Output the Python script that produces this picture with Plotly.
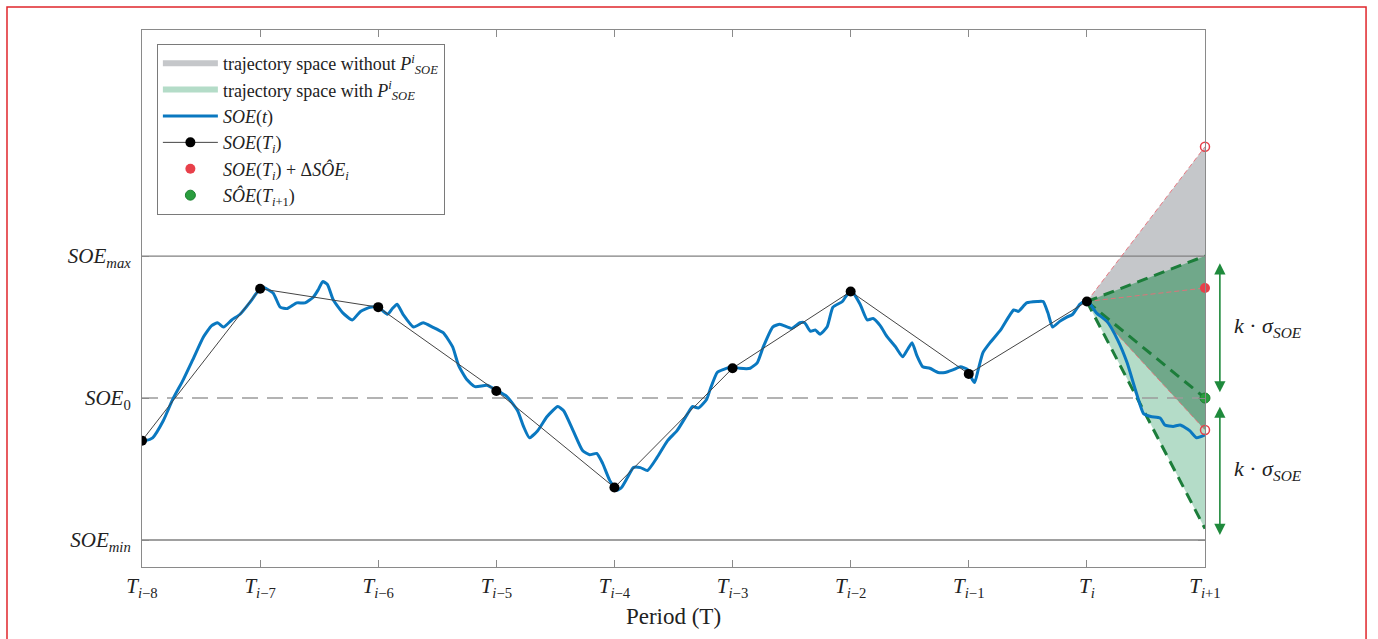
import plotly.graph_objects as go

# ---- data -----------------------------------------------------------------
# period index: 0 -> T_{i-8}, ..., 8 -> T_i, 9 -> T_{i+1}
period_ticks = list(range(10))
period_labels = ["i\u22128", "i\u22127", "i\u22126", "i\u22125", "i\u22124",
                 "i\u22123", "i\u22122", "i\u22121", "i", "i+1"]

# SOE levels (normalised: SOE_min=-1, SOE_0=0, SOE_max=1)
soe_levels = [-1.0, 0.0, 1.0]
soe_level_names = ["min", "0", "max"]

# continuous state of energy SOE(t)
t_soe = [0.00, 0.03, 0.09, 0.18, 0.26, 0.35, 0.43, 0.52, 0.59, 0.64, 0.69, 0.76, 0.83, 0.91,
         0.98, 1.02, 1.11, 1.17, 1.23, 1.31, 1.38, 1.45, 1.49, 1.53, 1.57, 1.62, 1.70, 1.78,
         1.85, 1.93, 1.99, 2.03, 2.08, 2.12, 2.16, 2.21, 2.30, 2.38, 2.46, 2.55, 2.63, 2.68,
         2.75, 2.82, 2.92, 2.99, 3.09, 3.18, 3.23, 3.28, 3.35, 3.43, 3.52, 3.57, 3.65, 3.73,
         3.79, 3.85, 3.90, 3.96, 4.02, 4.06, 4.11, 4.16, 4.22, 4.28, 4.36, 4.45, 4.53, 4.62,
         4.66, 4.71, 4.78, 4.81, 4.87, 4.92, 5.00, 5.06, 5.15, 5.21, 5.26, 5.34, 5.40, 5.50,
         5.57, 5.61, 5.66, 5.70, 5.74, 5.80, 5.85, 5.93, 5.98, 6.01, 6.08, 6.14, 6.19, 6.25,
         6.31, 6.38, 6.44, 6.48, 6.52, 6.56, 6.61, 6.67, 6.74, 6.80, 6.87, 6.93, 6.99, 7.03,
         7.05, 7.08, 7.12, 7.18, 7.27, 7.38, 7.42, 7.49, 7.58, 7.63, 7.67, 7.71, 7.77, 7.83,
         7.88, 7.94, 8.00, 8.08, 8.17, 8.26, 8.34, 8.41, 8.48, 8.54, 8.62, 8.66, 8.73, 8.79,
         8.87, 8.93, 9.00]
soe_t = [-0.30, -0.30, -0.28, -0.16, -0.01, 0.13, 0.27, 0.43, 0.51, 0.53, 0.50, 0.55, 0.59, 0.67,
         0.75, 0.78, 0.74, 0.64, 0.63, 0.67, 0.67, 0.71, 0.76, 0.82, 0.80, 0.69, 0.60, 0.55,
         0.61, 0.64, 0.64, 0.62, 0.59, 0.63, 0.66, 0.59, 0.50, 0.53, 0.50, 0.46, 0.36, 0.23,
         0.13, 0.08, 0.09, 0.06, 0.01, -0.09, -0.20, -0.28, -0.23, -0.13, -0.06, -0.09, -0.23, -0.37,
         -0.40, -0.39, -0.46, -0.58, -0.65, -0.63, -0.56, -0.49, -0.49, -0.51, -0.42, -0.30, -0.23, -0.11,
         -0.06, -0.07, -0.01, 0.06, 0.18, 0.20, 0.22, 0.21, 0.21, 0.25, 0.36, 0.50, 0.52, 0.49,
         0.53, 0.53, 0.47, 0.48, 0.45, 0.50, 0.64, 0.68, 0.74, 0.75, 0.66, 0.55, 0.56, 0.51,
         0.43, 0.36, 0.29, 0.34, 0.39, 0.30, 0.22, 0.21, 0.18, 0.18, 0.20, 0.22, 0.20, 0.13,
         0.11, 0.20, 0.32, 0.39, 0.48, 0.62, 0.61, 0.67, 0.68, 0.68, 0.60, 0.50, 0.54, 0.57,
         0.59, 0.66, 0.69, 0.60, 0.54, 0.41, 0.25, 0.06, -0.11, -0.13, -0.14, -0.19, -0.20, -0.19,
         -0.23, -0.28, -0.26]

# SOE sampled at the period boundaries T_{i-8} ... T_i
t_periods = [0, 1, 2, 3, 4, 5, 6, 7, 8]
soe_periods = [-0.30, 0.77, 0.64, 0.05, -0.63, 0.21, 0.75, 0.17, 0.68]

# forecast at T_{i+1}
t_next = 9
soe_delta_hi = 1.77      # upper bound without P_SOE
soe_delta = 0.775        # SOE(T_i) + delta SOE_i
soe_delta_lo = -0.225    # lower bound without P_SOE
soe_hat = 0.0            # predicted SOE(T_{i+1})
soe_band_hi = 1.0        # upper bound with P_SOE
soe_band_lo = -0.92      # lower bound with P_SOE

# ---- style ----------------------------------------------------------------
SERIF = "Liberation Serif"
BLUE = "#0a78c0"
GREEN_D = "#1c7d3a"
RED = "#e8404a"
RED_L = "rgba(232,110,120,0.9)"

t0, s0 = t_periods[-1], soe_periods[-1]

fig = go.Figure()

# trajectory space without P_SOE
fig.add_trace(go.Scatter(
    x=[t0, t_next, t_next, t0], y=[s0, soe_delta_hi, soe_delta_lo, s0],
    mode="none", fill="toself", fillcolor="rgb(197,199,202)",
    name="trajectory space without <i>P</i><sup><i>i</i></sup><sub><i>SOE</i></sub>",
    legendrank=1, hoverinfo="skip"))
# trajectory space with P_SOE
fig.add_trace(go.Scatter(
    x=[t0, t_next, t_next, t0], y=[s0, soe_band_hi, soe_band_lo, s0],
    mode="none", fill="toself", fillcolor="rgb(180,220,200)",
    name="trajectory space with <i>P</i><sup><i>i</i></sup><sub><i>SOE</i></sub>",
    legendrank=2, hoverinfo="skip"))
# overlap of both spaces
fig.add_trace(go.Scatter(
    x=[t0, t_next, t_next, t0],
    y=[s0, min(soe_band_hi, soe_delta_hi), max(soe_band_lo, soe_delta_lo), s0],
    mode="none", fill="toself", fillcolor="rgb(112,168,138)",
    showlegend=False, hoverinfo="skip"))

# SOE_min / SOE_max / SOE_0 reference levels
for lvl, name in zip(soe_levels, soe_level_names):
    dashed = name == "0"
    fig.add_trace(go.Scatter(
        x=[period_ticks[0], period_ticks[-1]], y=[lvl, lvl], mode="lines",
        line=dict(color="#9a9a9a" if dashed else "#808080", width=1.5 if dashed else 1.3,
                  dash="16px,9px" if dashed else "solid"),
        showlegend=False, hoverinfo="skip"))

# fan of thin red dashed lines from SOE(T_i)
for yv in [soe_delta_hi, soe_delta, soe_delta_lo]:
    fig.add_trace(go.Scatter(
        x=[t0, t_next], y=[s0, yv], mode="lines",
        line=dict(color=RED_L, width=1, dash="5px,3px"),
        showlegend=False, hoverinfo="skip"))

# green dashed bounds
for yv in [soe_band_hi, soe_hat, soe_band_lo]:
    fig.add_trace(go.Scatter(
        x=[t0, t_next], y=[s0, yv], mode="lines",
        line=dict(color=GREEN_D, width=3, dash="11px,7px"),
        showlegend=False, hoverinfo="skip"))

# SOE(t)
fig.add_trace(go.Scatter(
    x=t_soe, y=soe_t, mode="lines", line=dict(color=BLUE, width=3, shape="spline", smoothing=0.5),
    name="<i>SOE</i>(<i>t</i>)", legendrank=3))

# SOE(T_i)
fig.add_trace(go.Scatter(
    x=t_periods, y=soe_periods, mode="lines+markers",
    line=dict(color="#444444", width=1), marker=dict(color="black", size=10),
    name="<i>SOE</i>(<i>T<sub>i</sub></i>)", legendrank=4))

# bounds without P_SOE (open circles)
fig.add_trace(go.Scatter(
    x=[t_next, t_next], y=[soe_delta_hi, soe_delta_lo], mode="markers",
    marker=dict(symbol="circle-open", color=RED, size=9, line=dict(width=1.5)),
    showlegend=False, cliponaxis=False, hoverinfo="skip"))

# SOE(T_i) + delta SOE_i
fig.add_trace(go.Scatter(
    x=[t_next], y=[soe_delta], mode="markers", marker=dict(color=RED, size=10),
    name="<i>SOE</i>(<i>T<sub>i</sub></i>) + \u0394<i>SO\u0302E</i><sub><i>i</i></sub>",
    legendrank=5, cliponaxis=False))

# predicted SOE(T_{i+1})
fig.add_trace(go.Scatter(
    x=[t_next], y=[soe_hat], mode="markers",
    marker=dict(color="#2a9d3e", size=10, line=dict(color="#1c8030", width=1)),
    name="<i>SO\u0302E</i>(<i>T</i><sub><i>i</i>+1</sub>)",
    legendrank=6, cliponaxis=False))

# k*sigma arrows and labels
ARROW_X = 1.014
LABEL_X = 1.025
arrow_spans = [(soe_band_hi - 0.04, soe_hat + 0.04), (soe_hat - 0.05, soe_band_lo - 0.045)]
for y_a, y_b in arrow_spans:
    fig.add_annotation(
        x=ARROW_X, y=y_b, ax=ARROW_X, ay=y_a,
        xref="x domain", yref="y", axref="x domain", ayref="y",
        text="", showarrow=True, arrowhead=2, arrowside="end+start",
        arrowsize=1.4, arrowwidth=1.6, arrowcolor="#1f8a3c")
    fig.add_annotation(
        x=LABEL_X, y=(y_a + y_b) / 2, xref="x domain", yref="y",
        text="<i>k</i> \u00b7 <i>\u03c3</i><sub><i>SOE</i></sub>", showarrow=False,
        xanchor="left", font=dict(family=SERIF, size=22, color="#222222"))

# framed border around the whole figure
fig.add_shape(type="rect", xref="paper", yref="paper",
              x0=-0.127, x1=1.1515, y0=-0.2, y1=1.043,
              line=dict(color="#e0262b", width=1.5), layer="above")

AX = dict(showline=True, linecolor="#8a8a8a", linewidth=1, mirror="ticks",
          ticks="inside", ticklen=7, tickcolor="#8a8a8a", showgrid=False, zeroline=False)

x_ticktext = [f"<i>T</i><sub><i>{lab}</i></sub>".replace("<i>i\u2212", "<i>i</i>\u2212")
              .replace("<i>i+1</i>", "<i>i</i>+1") for lab in period_labels]
y_ticktext = [f"<i>SOE</i><sub><i>{n}</i></sub>" if n != "0" else "<i>SOE</i><sub>0</sub>"
              for n in soe_level_names]

fig.update_layout(
    width=1378, height=639,
    margin=dict(l=142, r=173, t=30, b=72),
    paper_bgcolor="white", plot_bgcolor="white",
    font=dict(family=SERIF, color="#222222"),
    xaxis=dict(range=[0, 9], tickvals=period_ticks, ticktext=x_ticktext,
               tickfont=dict(size=21), title=dict(text="Period (T)", font=dict(size=23), standoff=8),
               **AX),
    yaxis=dict(range=[-1.19, 2.592], tickvals=soe_levels, ticktext=y_ticktext,
               tickfont=dict(size=21), ticklabelstandoff=6, **AX),
    legend=dict(x=0.014, y=0.974, xanchor="left", yanchor="top",
                bgcolor="white", bordercolor="#7a7a7a", borderwidth=1,
                font=dict(family=SERIF, size=18), tracegroupgap=0,
                itemwidth=55),
    showlegend=True,
)

fig.write_html("out.html")
